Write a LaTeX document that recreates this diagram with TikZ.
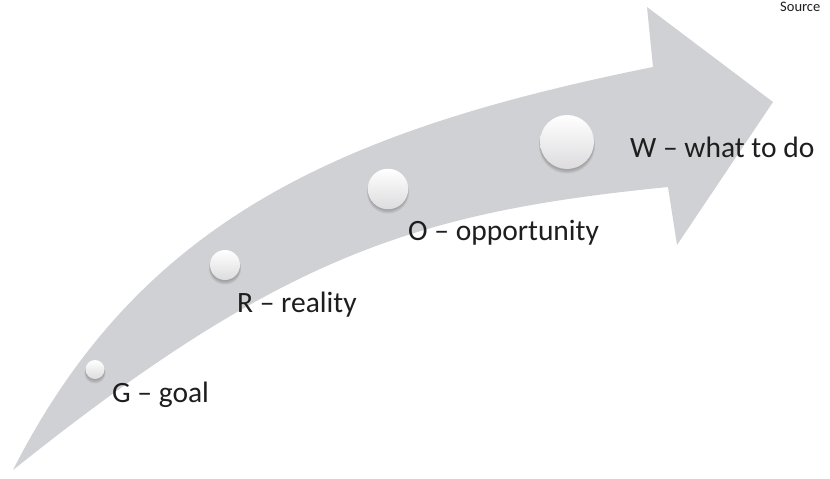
\documentclass[tikz,border=0pt]{standalone}
\usepackage{fontspec}
\setmainfont{Carlito}
\begin{document}
\begin{tikzpicture}[x=1pt,y=-1pt,
  arrowfill/.style={fill=arrowgray, draw=none},
  label/.style={anchor=base west, inner sep=0pt, text=textdark, font=\fontsize{29.5}{32}\selectfont},
  ball/.style={circle, inner sep=0pt, draw=none, shading=axis, top color=white, middle color=white, bottom color=ballgray},
  shadowdisc/.style={circle, inner sep=0pt, draw=none, fill=black, fill opacity=0.08}
]
\definecolor{arrowgray}{RGB}{208,209,212}
\definecolor{textdark}{RGB}{30,30,30}
\definecolor{ballgray}{RGB}{220,220,222}
\useasboundingbox (0,0) rectangle (830,479);
\fill[white] (0,0) rectangle (830,479);

% curved arrow
\coordinate (tail) at (13,470);
\coordinate (ui) at (653,67);
\coordinate (top) at (647,7);
\coordinate (tip) at (773,102);
\coordinate (bot) at (677,245);
\coordinate (li) at (668,187);
\path[arrowfill] (tail) .. controls (140,220) and (340,130) .. (ui)
  -- (top) -- (tip) -- (bot) -- (li)
  .. controls (418,212) and (283,254) .. (tail) -- cycle;

% shadows of the balls
\foreach \cx/\cy/\r in {95/369.5/9.5, 225/265/15, 388/189/20, 567/142/27}{
  \node[shadowdisc, minimum size={2*\r+2}] at (\cx,\cy+3.5) {};
  \node[shadowdisc, minimum size={2*\r+1}] at (\cx,\cy+2.5) {};
  \node[shadowdisc, minimum size={2*\r}] at (\cx,\cy+1.5) {};
}

% balls
\node[ball, minimum size=19pt] (bg) at (95,369.5) {};
\node[ball, minimum size=30pt] (br) at (225,265) {};
\node[ball, minimum size=40.5pt] (bo) at (388,189) {};
\node[ball, minimum size=54pt] (bw) at (567,142) {};

% labels
\node[label] (lg) at (112,402) {G – goal};
\node[label] (lr) at (237,312) {R – reality};
\node[label] (lo) at (408,240) {O – opportunity};
\node[label] (lw) at (630,157) {W – what to do};

\node[anchor=base west, inner sep=0pt, text=textdark, font=\fontsize{14.5}{17}\selectfont] (src) at (780,12) {Source};
\end{tikzpicture}
\end{document}
